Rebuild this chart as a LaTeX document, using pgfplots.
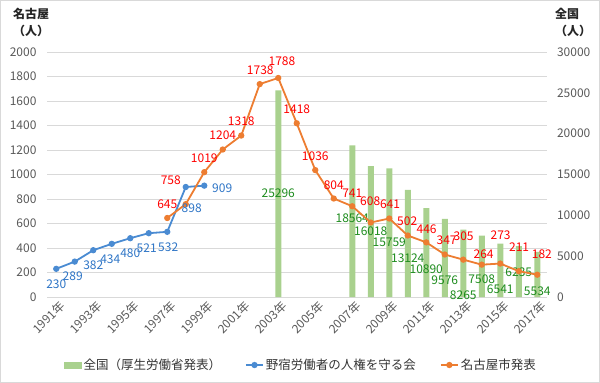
\documentclass[border=0pt]{standalone}
\usepackage{fontspec}
\setmainfont{Noto Sans CJK JP}
\usepackage{pgfplots}
\pgfplotsset{compat=1.18}
\usepackage{pgfplotstable}

\definecolor{gbar}{HTML}{A9D18E}
\definecolor{gtext}{HTML}{1E8C1E}
\definecolor{bline}{HTML}{4A8BD2}
\definecolor{btext}{HTML}{2E75C6}
\definecolor{oline}{HTML}{ED7D31}
\definecolor{rtext}{HTML}{FF0000}
\definecolor{ticktext}{HTML}{595959}
\definecolor{gridc}{HTML}{D9D9D9}

% year, value, label position (lx, ly)
\pgfplotstableread{
year val lx ly
2003 25296 2003 12735
2007 18564 2007 9588
2008 16018 2008 7996
2009 15759 2009 6698
2010 13124 2010 4739
2011 10890 2011 3392
2012 9576 2012 2082
2013 8265 2013 245
2014 7508 2014 2167
2015 6541 2015 943
2016 6235 2016 3024
2017 5534 2017 649
}\zenkoku

\pgfplotstableread{
year val lx ly
1991 230 1991 107.6
1992 289 1991.89 166.6
1993 382 1993 255.5
1994 434 1993.92 311.6
1995 480 1995 357.6
1996 521 1995.89 398.6
1997 532 1997.05 409.6
1998 898 1998.32 726.6
1999 909 1999.97 887
}\mamorukai

\pgfplotstableread{
year val lx ly
1997 645 1997 759.3
1998 758 1997.19 953.9
1999 1019 1999 1133.3
2000 1204 2000 1318.3
2001 1318 2001 1432.3
2002 1738 2002.03 1852.3
2003 1788 2003.2 1926.8
2004 1418 2004 1532.3
2005 1036 2005 1146.2
2006 804 2006 914.2
2007 741 2007 851.2
2008 608 2007.97 779.4
2009 641 2009.04 759.4
2010 502 2009.97 616.3
2011 446 2011.02 552.1
2012 347 2012.1 465.4
2013 305 2013.02 492.7
2014 264 2014.1 345.6
2015 273 2015.02 506.5
2016 211 2016.02 411
2017 182 2017.25 351
}\nagoya

\newcommand\lblfont{\fontsize{12pt}{14pt}\selectfont}

\pgfplotsset{base/.style={
  at={(47pt,-297pt)}, anchor=south west,
  scale only axis, width=499.5pt, height=245pt,
  xmin=1990.5, xmax=2017.5,
  /pgf/number format/assume math mode=true,
  /pgf/number format/1000 sep={},
  scaled y ticks=false,
  major tick style={draw=none},
  minor tick style={draw=none},
  tick label style={font=\lblfont, text=ticktext},
},
lbl/.style={forget plot, draw=none, mark=none,
  nodes near coords, point meta=explicit symbolic,
  every node near coord/.append style={anchor=center, inner sep=0pt, font=\lblfont, text=#1}},
}

\begin{document}
\begin{tikzpicture}
\useasboundingbox (0,0) rectangle (600pt,-383pt);
\draw[gridc, line width=0.8pt] (0.5pt,-0.5pt) rectangle (599.5pt,-382.5pt);

% grid, left axis, x labels
\begin{axis}[base, ymin=0, ymax=2000, ytick={0,200,...,2000},
  axis x line*=bottom, axis y line*=left, axis line style={draw=none},
  ymajorgrids, grid style={gridc, line width=0.8pt},
  yticklabel style={xshift=-7pt},
  xtick={1991,1993,...,2017},
  xticklabels={1991年,1993年,1995年,1997年,1999年,2001年,2003年,2005年,2007年,2009年,2011年,2013年,2015年,2017年},
  xticklabel style={rotate=45, anchor=north east, xshift=3pt},
]
\addplot[draw=none] coordinates {(1991,0)};
\end{axis}

% bars, right axis
\begin{axis}[base, ymin=0, ymax=30000, ytick={0,5000,...,30000},
  axis y line*=right, axis x line=none, axis line style={draw=none},
  yticklabel style={xshift=7pt},
]
\addplot[ybar, bar width=6pt, fill=gbar, draw=none] table[x=year, y=val]{\zenkoku};
\addplot[lbl=gtext] table[x=lx, y=ly, meta=val]{\zenkoku};
\end{axis}

% lines
\begin{axis}[base, ymin=0, ymax=2000, hide x axis, hide y axis,
  legend style={at={(0.5085,-0.2776)}, anchor=center, draw=none, fill=none,
    font=\fontsize{12.5pt}{15pt}\selectfont, text=black!80,
    /tikz/every even column/.append style={column sep=22pt}},
  legend columns=3, legend cell align=left,
]
\addlegendimage{legend image code/.code={\fill[gbar] (0pt,-3pt) rectangle (17pt,3pt);}}
\addlegendentry{全国（厚生労働省発表）}
\addlegendimage{bline, line width=1.8pt, mark=*, mark size=2.2pt, mark options={fill=bline}}
\addlegendentry{野宿労働者の人権を守る会}
\addlegendimage{oline, line width=1.8pt, mark=*, mark size=2.2pt, mark options={fill=oline}}
\addlegendentry{名古屋市発表}
\addplot[forget plot, bline, line width=1.8pt, mark=*, mark size=2.2pt, mark options={fill=bline}]
  table[x=year, y=val]{\mamorukai};
\addplot[forget plot, oline, line width=1.8pt, mark=*, mark size=2.2pt, mark options={fill=oline}]
  table[x=year, y=val]{\nagoya};
\addplot[lbl=btext] table[x=lx, y=ly, meta=val]{\mamorukai};
\addplot[lbl=rtext] table[x=lx, y=ly, meta=val]{\nagoya};
\end{axis}

\node[anchor=north west, inner sep=0pt, align=left, font=\bfseries\fontsize{12pt}{16.5pt}\selectfont, text=black!85]
  at (13pt,-8pt) {名古屋\\（人）};
\node[anchor=north west, inner sep=0pt, align=left, font=\bfseries\fontsize{12pt}{16.5pt}\selectfont, text=black!85]
  at (555pt,-8pt) {全国\\（人）};
\end{tikzpicture}
\end{document}
